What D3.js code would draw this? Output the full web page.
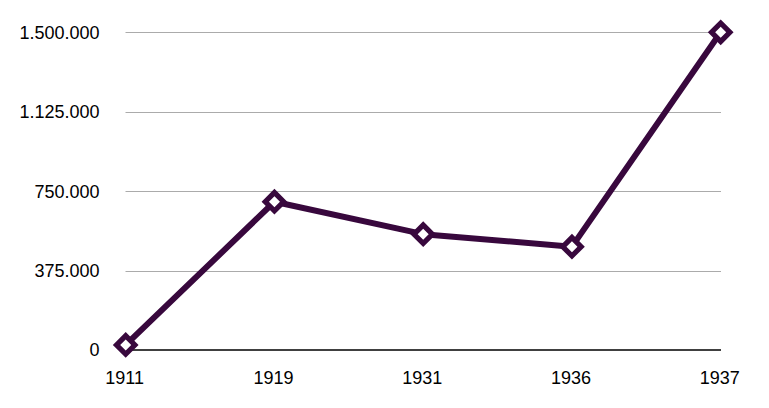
<!DOCTYPE html>
<html><head><meta charset="utf-8">
<script src="https://cdn.jsdelivr.net/npm/d3@7"></script>
<style>body{margin:0;background:#fff}svg{display:block}text{font-family:"Liberation Sans",Arial,sans-serif;fill:#000}</style>
</head><body><svg id="c" width="769" height="408"></svg>
<script>
const categories = ["1911","1919","1931","1936","1937"];
const values = [24000, 700000, 547000, 488000, 1500000];
const yTicks = [0, 375000, 750000, 1125000, 1500000];
const yTickLabels = ["0","375.000","750.000","1.125.000","1.500.000"];

const svg = d3.select("#c");
const x = d3.scalePoint().domain(categories).range([125.7, 720.7]);
const y = d3.scaleLinear().domain([0, 1500000]).range([350, 32.3]);
const left = 125.5, right = 721;

svg.append("g").selectAll("line").data(yTicks.filter(d=>d>0)).join("line")
  .attr("x1", left).attr("x2", right)
  .attr("y1", d=>Math.round(y(d))+0.5).attr("y2", d=>Math.round(y(d))+0.5)
  .attr("stroke", "#ababab").attr("stroke-width", 1.2);

svg.append("line").attr("x1", left).attr("x2", right)
  .attr("y1", y(0)).attr("y2", y(0)).attr("stroke", "#000").attr("stroke-width", 1.3);

svg.append("g").selectAll("text").data(yTicks).join("text")
  .attr("x", 99.5).attr("y", d=>y(d)).attr("dy", "0.36em")
  .attr("text-anchor", "end").attr("font-size", 18)
  .text((d,i)=>yTickLabels[i]);

svg.append("g").selectAll("text").data(categories).join("text")
  .attr("x", d=>x(d)-1).attr("y", 383.5)
  .attr("text-anchor", "middle").attr("font-size", 18)
  .text(d=>d);

const color = "#38083d";
const line = d3.line().x((d,i)=>x(categories[i])).y(d=>y(d));
svg.append("path").datum(values).attr("d", line)
  .attr("fill", "none").attr("stroke", color).attr("stroke-width", 6)
  .attr("stroke-linejoin", "round");

const s = 13;
svg.append("g").selectAll("rect").data(values).join("rect")
  .attr("x", -s/2).attr("y", -s/2).attr("width", s).attr("height", s)
  .attr("transform", (d,i)=>`translate(${x(categories[i])},${y(d)}) rotate(45)`)
  .attr("fill", "#fff").attr("stroke", color).attr("stroke-width", 5.2);
</script></body></html>
